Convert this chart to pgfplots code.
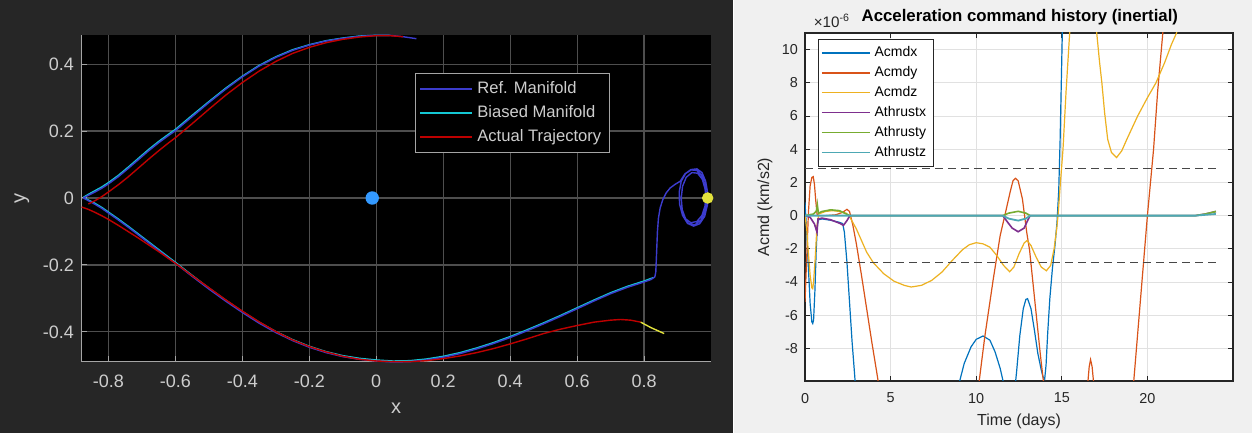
\documentclass[border=0pt]{standalone}
\usepackage{fontspec}
\setmainfont{Liberation Sans}
\usepackage{pgfplots}
\pgfplotsset{compat=1.18}

\definecolor{figdark}{RGB}{38,38,38}
\definecolor{figlight}{RGB}{240,240,240}
\definecolor{darktick}{RGB}{205,205,205}
\definecolor{darkaxis}{RGB}{165,165,165}
\definecolor{darkgrid}{RGB}{78,78,78}
\definecolor{refman}{RGB}{60,60,205}
\definecolor{biasman}{RGB}{20,200,212}
\definecolor{actual}{RGB}{190,0,0}
\definecolor{moonblue}{RGB}{51,153,255}
\definecolor{yel}{RGB}{225,225,60}
\definecolor{axgray}{RGB}{38,38,38}
\definecolor{gridlight}{RGB}{225,225,225}
\definecolor{mA}{RGB}{0,114,189}
\definecolor{mB}{RGB}{217,83,25}
\definecolor{mC}{RGB}{237,177,32}
\definecolor{mD}{RGB}{126,47,142}
\definecolor{mE}{RGB}{119,172,48}
\definecolor{mF}{RGB}{77,190,238}

\begin{document}
\begin{tikzpicture}
\useasboundingbox (0,0) rectangle (626pt,216.5pt);
\fill[white] (0,0) rectangle (626pt,216.5pt);
\fill[figdark] (0,0) rectangle (366.5pt,216.5pt);
\fill[figlight] (367pt,0) rectangle (626pt,216.5pt);

% ---------------- left: trajectory in the rotating frame
\begin{axis}[
  at={(40.5pt,35.5pt)}, anchor=south west,
  scale only axis, width=315pt, height=163.5pt,
  xmin=-0.882, xmax=1.0, ymin=-0.49, ymax=0.487,
  axis background/.style={fill=black},
  axis x line*=bottom, axis y line*=left,
  axis line style={darkaxis, line width=0.5pt, -},
  xtick={-0.8,-0.6,-0.4,-0.2,0,0.2,0.4,0.6,0.8},
  ytick={-0.4,-0.2,0,0.2,0.4},
  tick align=inside, major tick length=3pt,
  tick style={darkaxis, line width=0.5pt},
  grid=major, major grid style={darkgrid, line width=0.6pt},
  /pgf/number format/assume math mode=true,
  /pgf/number format/fixed, /pgf/number format/precision=1,
  tick label style={font=\fontsize{9}{10}\selectfont, text=darktick},
  xticklabel style={yshift=-3pt},
  xlabel={x}, ylabel={y},
  label style={font=\fontsize{10}{12}\selectfont, text=darktick},
  xlabel style={at={(axis description cs:0.5,-0.141)}, anchor=center},
  ylabel style={at={(axis description cs:-0.0937,0.5)}, anchor=center},
  clip=false,
  legend style={at={(axis description cs:0.530,0.884)}, anchor=north west,
    fill=black, draw=darkaxis, text=darktick,
    font=\fontsize{8.3}{9.5}\selectfont, cells={anchor=west},
    row sep=0.6pt, inner sep=2pt},
  legend image code/.code={\draw[#1, line width=1pt] (0pt,0pt) -- (26pt,0pt);},
  legend entries={Ref. Manifold, Biased Manifold, Actual Trajectory},
  every axis plot/.append style={line width=0.7pt},
]
\addlegendimage{refman}
\addlegendimage{biasman}
\addlegendimage{actual}
% biased manifold (drawn beneath the reference)
\addplot[biasman, forget plot] coordinates {
 (-0.875,0.002) (-0.86,0.011) (-0.84,0.022) (-0.82,0.033) (-0.80,0.046)
 (-0.77,0.068) (-0.74,0.093) (-0.71,0.119) (-0.68,0.145) (-0.65,0.169)
 (-0.62,0.191) (-0.60,0.205) (-0.55,0.247) (-0.50,0.288) (-0.45,0.328)
 (-0.40,0.364) (-0.35,0.396) (-0.30,0.422) (-0.25,0.443) (-0.20,0.458)
 (-0.15,0.470) (-0.10,0.478) (-0.05,0.484) (0.00,0.486) (0.04,0.486)};
\addplot[biasman, forget plot] coordinates {
 (-0.875,0.002) (-0.86,-0.006) (-0.84,-0.016) (-0.82,-0.028) (-0.80,-0.042)
 (-0.77,-0.063) (-0.74,-0.085) (-0.71,-0.108) (-0.68,-0.131) (-0.65,-0.154)
 (-0.62,-0.177) (-0.60,-0.192) (-0.55,-0.231) (-0.50,-0.269) (-0.45,-0.305)
 (-0.40,-0.339) (-0.35,-0.371) (-0.30,-0.399) (-0.25,-0.423) (-0.20,-0.443)
 (-0.15,-0.459) (-0.10,-0.471) (-0.05,-0.479) (0.00,-0.484) (0.05,-0.487)
 (0.10,-0.486) (0.15,-0.481) (0.20,-0.473) (0.25,-0.462) (0.30,-0.448)
 (0.35,-0.432) (0.40,-0.414) (0.45,-0.394) (0.50,-0.373) (0.55,-0.351)
 (0.60,-0.328) (0.65,-0.305) (0.70,-0.283) (0.75,-0.264) (0.80,-0.248)
 (0.827,-0.238)};
% reference manifold
\addplot[refman, forget plot] coordinates {
 (-0.875,0.000) (-0.86,0.008) (-0.84,0.018) (-0.82,0.029) (-0.80,0.042)
 (-0.77,0.064) (-0.74,0.089) (-0.71,0.115) (-0.68,0.141) (-0.65,0.165)
 (-0.62,0.187) (-0.60,0.201) (-0.55,0.243) (-0.50,0.285) (-0.45,0.325)
 (-0.40,0.362) (-0.35,0.394) (-0.30,0.420) (-0.25,0.441) (-0.20,0.457)
 (-0.15,0.469) (-0.10,0.477) (-0.05,0.483) (0.00,0.486) (0.04,0.486)
 (0.08,0.482) (0.12,0.476)};
\addplot[refman, forget plot] coordinates {
 (-0.875,0.000) (-0.86,-0.008) (-0.84,-0.019) (-0.82,-0.031) (-0.80,-0.045)
 (-0.77,-0.066) (-0.74,-0.088) (-0.71,-0.111) (-0.68,-0.134) (-0.65,-0.157)
 (-0.62,-0.180) (-0.60,-0.195) (-0.55,-0.234) (-0.50,-0.272) (-0.45,-0.308)
 (-0.40,-0.342) (-0.35,-0.374) (-0.30,-0.402) (-0.25,-0.426) (-0.20,-0.446)
 (-0.15,-0.462) (-0.10,-0.474) (-0.05,-0.482) (0.00,-0.487) (0.05,-0.490)
 (0.10,-0.489) (0.15,-0.484) (0.20,-0.476) (0.25,-0.465) (0.30,-0.451)
 (0.35,-0.435) (0.40,-0.417) (0.45,-0.397) (0.50,-0.376) (0.55,-0.354)
 (0.60,-0.331) (0.65,-0.308) (0.70,-0.286) (0.75,-0.267) (0.80,-0.251)
 (0.82,-0.244) (0.832,-0.236) (0.835,-0.222) (0.836,-0.200) (0.838,-0.150)
 (0.840,-0.100) (0.843,-0.060) (0.848,-0.030) (0.856,-0.005) (0.866,0.015)
 (0.878,0.030) (0.893,0.041) (0.908,0.050)
 (0.922,0.072) (0.940,0.085) (0.958,0.087) (0.973,0.076) (0.984,0.050)
 (0.990,0.015) (0.989,-0.022) (0.981,-0.055) (0.966,-0.077) (0.948,-0.084)
 (0.930,-0.076) (0.915,-0.052) (0.906,-0.018) (0.905,0.018) (0.911,0.050)
 (0.924,0.073) (0.941,0.084) (0.958,0.082) (0.972,0.068) (0.981,0.042)
 (0.985,0.010) (0.982,-0.024) (0.973,-0.052) (0.958,-0.070) (0.940,-0.074)
 (0.924,-0.062) (0.914,-0.035) (0.911,0.000) (0.915,0.035) (0.926,0.062)
 (0.943,0.076) (0.960,0.074) (0.974,0.056) (0.982,0.028) (0.986,-0.005)
 (0.982,-0.040) (0.970,-0.066) (0.952,-0.080) (0.933,-0.077) (0.919,-0.058)
 (0.910,-0.028)};
% actual trajectory
\addplot[actual, forget plot] coordinates {
 (-0.86,-0.018) (-0.84,-0.008) (-0.82,0.004) (-0.80,0.018) (-0.77,0.040)
 (-0.74,0.064) (-0.71,0.090) (-0.68,0.116) (-0.65,0.141) (-0.62,0.165)
 (-0.60,0.180) (-0.55,0.222) (-0.50,0.265) (-0.45,0.307) (-0.40,0.345)
 (-0.35,0.379) (-0.30,0.408) (-0.25,0.432) (-0.20,0.450) (-0.15,0.464)
 (-0.10,0.474) (-0.05,0.481) (0.00,0.485) (0.04,0.485) (0.08,0.482)};
\addplot[actual, forget plot] coordinates {
 (-0.880,-0.027) (-0.86,-0.034) (-0.84,-0.043) (-0.82,-0.053) (-0.80,-0.064)
 (-0.77,-0.082) (-0.74,-0.101) (-0.71,-0.120) (-0.68,-0.140) (-0.65,-0.160)
 (-0.62,-0.181) (-0.60,-0.195) (-0.55,-0.232) (-0.50,-0.268) (-0.45,-0.304)
 (-0.40,-0.338) (-0.35,-0.370) (-0.30,-0.399) (-0.25,-0.424) (-0.20,-0.444)
 (-0.15,-0.460) (-0.10,-0.473) (-0.05,-0.482) (0.00,-0.487) (0.05,-0.489)
 (0.10,-0.489) (0.15,-0.486) (0.20,-0.480) (0.25,-0.472) (0.30,-0.462)
 (0.35,-0.450) (0.40,-0.436) (0.45,-0.421) (0.50,-0.405) (0.55,-0.392)
 (0.60,-0.381) (0.65,-0.371) (0.70,-0.365) (0.73,-0.363) (0.76,-0.365)
 (0.79,-0.371)};
\addplot[yel, forget plot] coordinates {(0.79,-0.371) (0.82,-0.387) (0.86,-0.405)};
% primaries
\addplot[only marks, mark=*, mark size=3pt, color=moonblue, forget plot]
  coordinates {(-0.012,0)};
\addplot[only marks, mark=*, mark size=2.5pt, color=yel, forget plot]
  coordinates {(0.99,0)};
\end{axis}

% ---------------- right: acceleration command history
\begin{axis}[
  at={(402.5pt,26pt)}, anchor=south west,
  scale only axis, width=214pt, height=174pt,
  xmin=0, xmax=25, ymin=-9.96, ymax=11,
  axis background/.style={fill=white},
  xtick={0,5,10,15,20}, ytick={-8,-6,-4,-2,0,2,4,6,8,10},
  tick align=inside, major tick length=2.5pt,
  tick style={axgray, line width=0.5pt},
  axis line style={axgray, line width=0.6pt},
  grid=major, major grid style={gridlight, line width=0.5pt},
  scaled ticks=false,
  clip mode=individual,
  /pgf/number format/assume math mode=true,
  tick label style={font=\fontsize{7.2}{8}\selectfont, text=axgray},
  xticklabel style={yshift=-2.5pt},
  xlabel={Time (days)}, ylabel={Acmd (km/s2)},
  label style={font=\fontsize{8}{9}\selectfont, text=axgray},
  xlabel style={at={(axis description cs:0.5,-0.115)}, anchor=center},
  ylabel style={at={(axis description cs:-0.0935,0.5)}, anchor=center},
  title={Acceleration command history (inertial)},
  every axis title shift=0pt,
  title style={at={(axis description cs:0.502,1.046)}, anchor=center,
    font=\bfseries\fontsize{8.4}{10}\selectfont, text=black},
  legend style={at={(axis description cs:0.03,0.983)}, anchor=north west,
    fill=white, draw=axgray, font=\fontsize{7}{8}\selectfont,
    cells={anchor=west}, row sep=-0.6pt, inner sep=1.5pt},
  legend image code/.code={\draw[#1, line width=0.7pt] (0pt,0pt) -- (24pt,0pt);},
  every axis plot/.append style={line width=0.6pt},
]
\addplot[mA] coordinates {
 (0,0.8) (0.1,-1.0) (0.2,-3.2) (0.3,-5.3) (0.4,-6.4) (0.45,-6.5) (0.5,-6.3)
 (0.58,-4.5) (0.65,-2.2) (0.72,-0.6) (0.78,-0.25) (1.0,-0.2) (1.5,-0.28)
 (2.0,-0.4) (2.2,-0.48) (2.3,-1.0) (2.45,-2.8) (2.6,-5.2) (2.75,-7.6)
 (2.9,-9.6) (3.0,-11) (3.2,-13) (8.6,-13)
 (8.8,-11) (9.0,-10.1) (9.3,-8.9) (9.7,-7.9) (10.0,-7.45) (10.4,-7.25)
 (10.8,-7.5) (11.1,-8.2) (11.4,-9.2) (11.6,-10.1) (11.75,-11) (12.0,-13)
 (12.2,-11) (12.35,-9.5) (12.55,-7.2) (12.75,-5.6) (12.9,-5.05) (13.0,-5.0)
 (13.2,-5.6) (13.4,-6.9) (13.6,-8.3) (13.8,-9.3) (13.9,-9.7) (14.0,-9.85)
 (14.08,-9.0) (14.18,-7.0) (14.3,-5.0) (14.45,-3.2) (14.6,-1.8) (14.72,-0.4)
 (14.82,1.5) (14.9,4.5) (14.97,8) (15.03,11) (15.1,14)};
\addlegendentry{Acmdx}
\addplot[mB] coordinates {
 (0,-5.2) (0.1,-2.5) (0.2,0.2) (0.3,1.8) (0.4,2.3) (0.48,2.35) (0.55,1.9)
 (0.62,1.0) (0.7,0.1) (0.8,0.0) (1.2,0.0) (1.8,0.05) (2.2,0.2) (2.45,0.38)
 (2.6,0.25) (2.8,-0.6) (3.0,-1.7) (3.3,-3.6) (3.6,-5.6) (3.9,-7.6)
 (4.2,-9.5) (4.4,-10.8) (4.8,-14) (9.8,-14)
 (10.17,-10) (10.5,-7.3) (11.0,-3.8) (11.4,-1.2) (11.67,0) (12.0,1.5)
 (12.15,2.1) (12.29,2.25) (12.45,2.1) (12.7,1.0) (12.95,-1.0) (13.12,-2.1)
 (13.3,-3.9) (13.5,-5.9) (13.75,-8.4) (13.95,-10.2) (14.3,-14) (16.2,-14)
 (16.5,-10.3) (16.6,-9.1) (16.68,-8.67) (16.77,-9.1) (16.88,-10.3) (17.1,-14)
 (18.9,-14) (19.2,-10) (19.6,-5) (20.0,0) (20.36,4) (20.6,7.5) (20.9,11)
 (21.1,13.5)};
\addlegendentry{Acmdy}
\addplot[mC] coordinates {
 (0,0) (0.1,-0.8) (0.2,-2.3) (0.3,-3.6) (0.4,-4.35) (0.45,-4.4) (0.5,-4.0)
 (0.6,-2.5) (0.7,-0.6) (0.8,0.1) (1.2,0.25) (1.6,0.3) (2.0,0.25) (2.4,0.15)
 (2.6,-0.05) (3.0,-0.8) (3.3,-1.5) (3.6,-2.2) (4.0,-2.85) (4.6,-3.5)
 (5.2,-3.95) (5.8,-4.2) (6.2,-4.3) (6.8,-4.2) (7.4,-3.9) (8.0,-3.4)
 (8.6,-2.7) (9.2,-2.05) (9.6,-1.75) (10.0,-1.63) (10.4,-1.7) (10.8,-1.9)
 (11.2,-2.4) (11.6,-3.0) (11.95,-3.38) (12.2,-3.1) (12.5,-2.3) (12.8,-1.65)
 (12.97,-1.5) (13.2,-1.8) (13.5,-2.5) (13.8,-3.1) (14.1,-3.32) (14.35,-3.0)
 (14.55,-2.0) (14.7,-0.8) (14.78,0) (14.92,2.0) (15.07,4) (15.25,7.5)
 (15.46,11) (15.7,15) (16.7,15) (17.04,11) (17.2,9.3) (17.34,8) (17.5,6.2)
 (17.68,4.6) (17.9,3.8) (18.2,3.5) (18.5,3.9) (18.8,4.6) (19.43,6)
 (20.0,7.1) (20.5,8) (21.0,9.2) (21.4,10.3) (21.7,11) (22.0,12)};
\addlegendentry{Acmdz}
\addplot[mD, line width=0.8pt] coordinates {
 (0,0) (0.3,-0.1) (0.55,-0.5) (0.7,-1.0) (0.76,-0.2) (1.0,-0.15) (1.5,-0.25)
 (2.0,-0.45) (2.25,-0.58) (2.45,-0.3) (2.62,0) (11.55,0) (11.8,-0.35)
 (12.1,-0.75) (12.45,-0.97) (12.8,-0.75) (13.0,-0.3) (13.15,0) (22.8,0)
 (23.4,0.1) (24.0,0.25)};
\addlegendentry{Athrustx}
\addplot[mE, line width=0.8pt] coordinates {
 (0,0) (0.5,0.1) (0.68,0.3) (0.72,0.65) (0.78,0.15) (1.0,0.25) (1.5,0.35)
 (2.0,0.3) (2.3,0.15) (2.62,0) (11.55,0) (11.9,0.15) (12.45,0.26)
 (12.9,0.15) (13.15,0) (22.8,0) (23.4,0.1) (24.0,0.25)};
\addlegendentry{Athrusty}
\addplot[mF!80!mE!90!black, line width=0.9pt] coordinates {
 (0,0) (11.55,0) (11.9,-0.18) (12.45,-0.3) (12.9,-0.18) (13.15,0) (22.8,0)
 (23.4,0.05) (24.0,0.1)};
\addlegendentry{Athrustz}
% thrust limits
\addplot[forget plot, axgray!85, dash pattern=on 4pt off 2.5pt, line width=0.5pt]
  coordinates {(0,2.83) (24,2.83)};
\addplot[forget plot, axgray!85, dash pattern=on 4pt off 2.5pt, line width=0.5pt]
  coordinates {(0,-2.83) (24,-2.83)};
\node[anchor=base west, font=\fontsize{7.6}{8}\selectfont, text=axgray]
  at (axis description cs:0.004,1.017) {×10\textsuperscript{-6}};
\end{axis}
\end{tikzpicture}
\end{document}
